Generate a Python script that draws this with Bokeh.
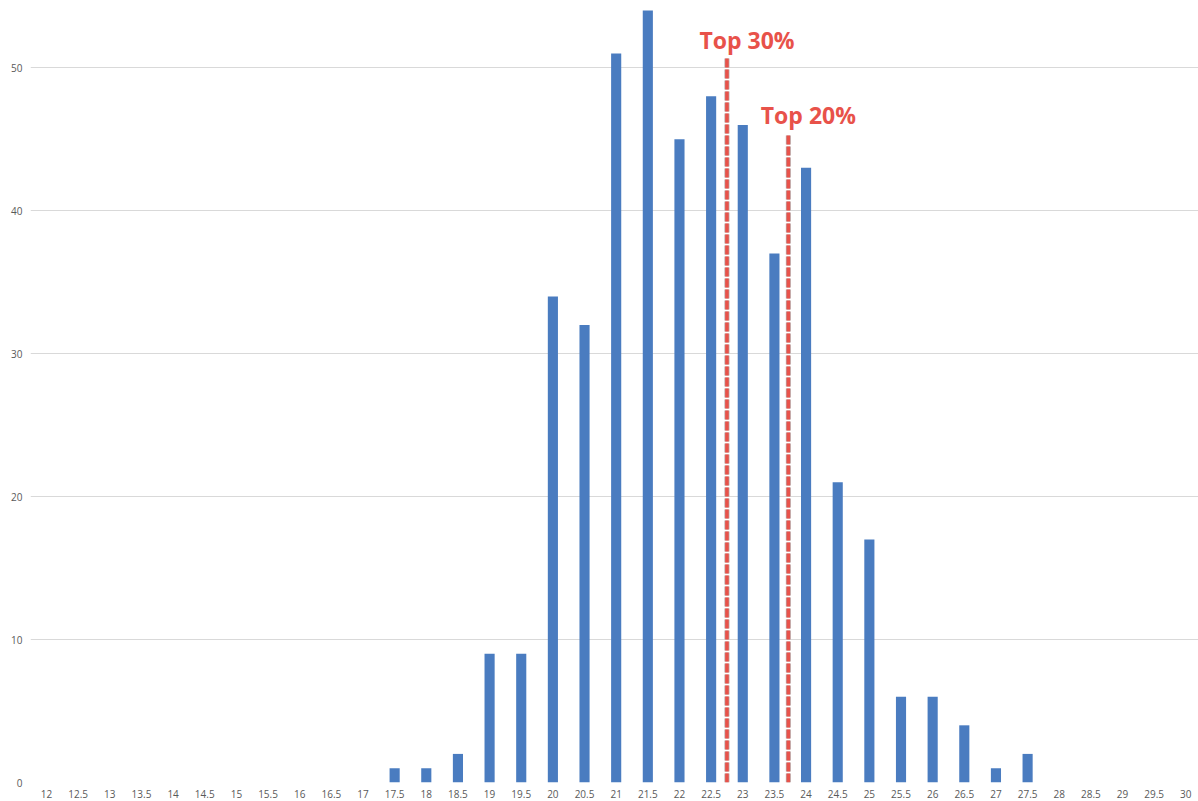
from bokeh.plotting import figure
from bokeh.models import FixedTicker, CustomJSTickFormatter, Range1d, ColumnDataSource
from bokeh.core.properties import value
from bokeh.embed import file_html
from bokeh.resources import INLINE

bins = [12, 12.5, 13, 13.5, 14, 14.5, 15, 15.5, 16, 16.5, 17, 17.5, 18, 18.5,
        19, 19.5, 20, 20.5, 21, 21.5, 22, 22.5, 23, 23.5, 24, 24.5, 25, 25.5,
        26, 26.5, 27, 27.5, 28, 28.5, 29, 29.5, 30]
counts = [0, 0, 0, 0, 0, 0, 0, 0, 0, 0, 0, 1, 1, 2,
          9, 9, 34, 32, 51, 54, 45, 48, 46, 37, 43, 21, 17, 6,
          6, 4, 1, 2, 0, 0, 0, 0, 0]
y_ticks = [0, 10, 20, 30, 40, 50]

marker_labels = ["Top 30%", "Top 20%"]
marker_x = [22.75, 23.72]
marker_top = [50.7, 45.4]

BLUE = "#4a7cc0"
RED = "#e8524a"

p = figure(width=1198, height=801, output_backend="svg", toolbar_location=None,
           x_range=Range1d(11.747, 30.2), y_range=Range1d(0, 54.7),
           min_border_left=30, min_border_right=0, min_border_top=0, min_border_bottom=19)
p.outline_line_color = None
p.background_fill_color = "white"

p.vbar(x=bins, top=counts, width=0.16, bottom=0, color=BLUE, line_color=None)

# marker lines
src = ColumnDataSource(dict(x=marker_x, top=marker_top, lab=marker_labels))
p.segment(x0="x", y0=0, x1="x", y1="top", source=src, line_color="#b8a8a8",
          line_width=5, line_dash="9 2")
p.segment(x0="x", y0=0, x1="x", y1="top", source=src, line_color=RED,
          line_width=3.5, line_dash="9 2")
p.text(x="x", y="top", text="lab", source=src, x_offset=20, y_offset=-18,
       text_align="center", text_baseline="alphabetic", text_color=RED,
       text_font=value("Open Sans"), text_font_style="bold", text_font_size="23px")

p.xaxis.ticker = FixedTicker(ticks=bins)
p.xaxis.formatter = CustomJSTickFormatter(code="return tick.toString();")
p.yaxis.ticker = FixedTicker(ticks=y_ticks)
for ax in (p.xaxis, p.yaxis):
    ax.axis_line_color = None
    ax.major_tick_line_color = None
    ax.minor_tick_line_color = None
    ax.major_tick_out = 0
    ax.major_tick_in = 0
    ax.major_label_text_color = "#595959"
    ax.major_label_text_font = "Open Sans"
    ax.major_label_text_font_size = "10px"
p.xaxis.major_label_standoff = 7
p.yaxis.major_label_standoff = 8

p.xgrid.grid_line_color = None
p.ygrid.grid_line_color = "#d9d9d9"
p.ygrid.grid_line_width = 1
p.ygrid.ticker = FixedTicker(ticks=y_ticks)

open("out.html", "w").write(file_html(p, INLINE))
